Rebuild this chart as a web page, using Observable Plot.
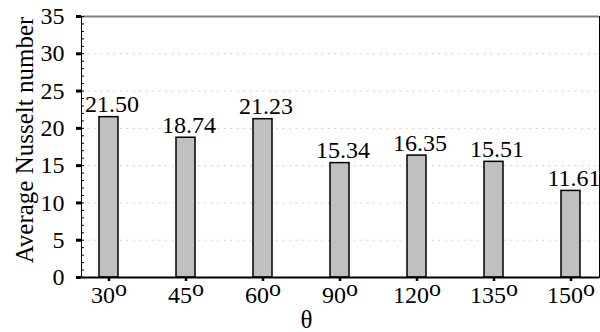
<!DOCTYPE html>
<html><head><meta charset="utf-8">
<script src="https://cdn.jsdelivr.net/npm/d3@7"></script>
<script src="https://cdn.jsdelivr.net/npm/@observablehq/plot@0.6"></script>
<style>body{margin:0;background:#fff} svg{display:block}</style>
</head><body><div id="chart"></div>
<script>
const categories = ["30","45","60","90","120","135","150"];
const nusselt = [21.50, 18.74, 21.23, 15.34, 16.35, 15.51, 11.61];
const valueLabels = ["21.50","18.74","21.23","15.34","16.35","15.51","11.61"];
const yTicks = [0,5,10,15,20,25,30,35];
const gridTicks = [5,10,15,20,25,30];
const minorTicks = d3.range(0, 36, 1);
const yLabel = "Average Nusselt number";
const xLabel = "θ";
const degreeMark = "o";

const data = categories.map((c, i) => ({cat: c, value: nusselt[i], label: valueLabels[i]}));
const font = "'Liberation Serif', 'Times New Roman', serif";

const plot = Plot.plot({
  width: 600, height: 332,
  marginLeft: 81, marginRight: 1, marginTop: 16, marginBottom: 55,
  style: {fontFamily: font, background: "white", color: "black"},
  x: {domain: categories, paddingInner: 0.75, paddingOuter: 0.22},
  y: {domain: [0, 35]},
  marks: [
    Plot.gridY(gridTicks, {stroke: "#c4c4c4", strokeOpacity: 1, strokeDasharray: "1.5,5"}),
    Plot.barY(data, {x: "cat", y: "value", fill: "#c0c0c0", stroke: "black", strokeWidth: 1.5}),
    Plot.frame({stroke: "black", strokeWidth: 1}),
    Plot.ruleY([35], {stroke: "#808080", strokeWidth: 2}),
    Plot.ruleY([0], {stroke: "black", strokeWidth: 2}),
    Plot.axisY({ticks: minorTicks, tickSize: 3, dx: 3, tickFormat: () => "", fill: "none", label: null, stroke: "black", strokeWidth: 1}),
    Plot.axisY({ticks: yTicks, tickSize: 5, tickPadding: 12, strokeWidth: 3, stroke: "black", fontSize: 24, label: null, tickFormat: d => String(d)}),
    Plot.axisX({tickSize: 4, tickPadding: 4, strokeWidth: 2.5, stroke: "black", fontSize: 24, label: null}),
    Plot.text(data, {x: "cat", y: "value", text: "label", dy: -5, dx: 3, lineAnchor: "bottom", fontSize: 24}),
    Plot.text([yLabel], {text: d => d, frameAnchor: "left", textAnchor: "middle", rotate: -90, dx: -57, dy: -7, fontSize: 25, lineAnchor: "middle"}),
    Plot.text([xLabel], {text: d => d, frameAnchor: "bottom", textAnchor: "middle", dx: -34, dy: 50, fontSize: 25, lineAnchor: "bottom"})
  ]
});

d3.select(plot).selectAll('g[aria-label="x-axis tick label"] text').each(function() {
  d3.select(this).append("tspan").attr("dy", -7).text(degreeMark);
});

document.getElementById("chart").appendChild(plot);
</script>
</body></html>
